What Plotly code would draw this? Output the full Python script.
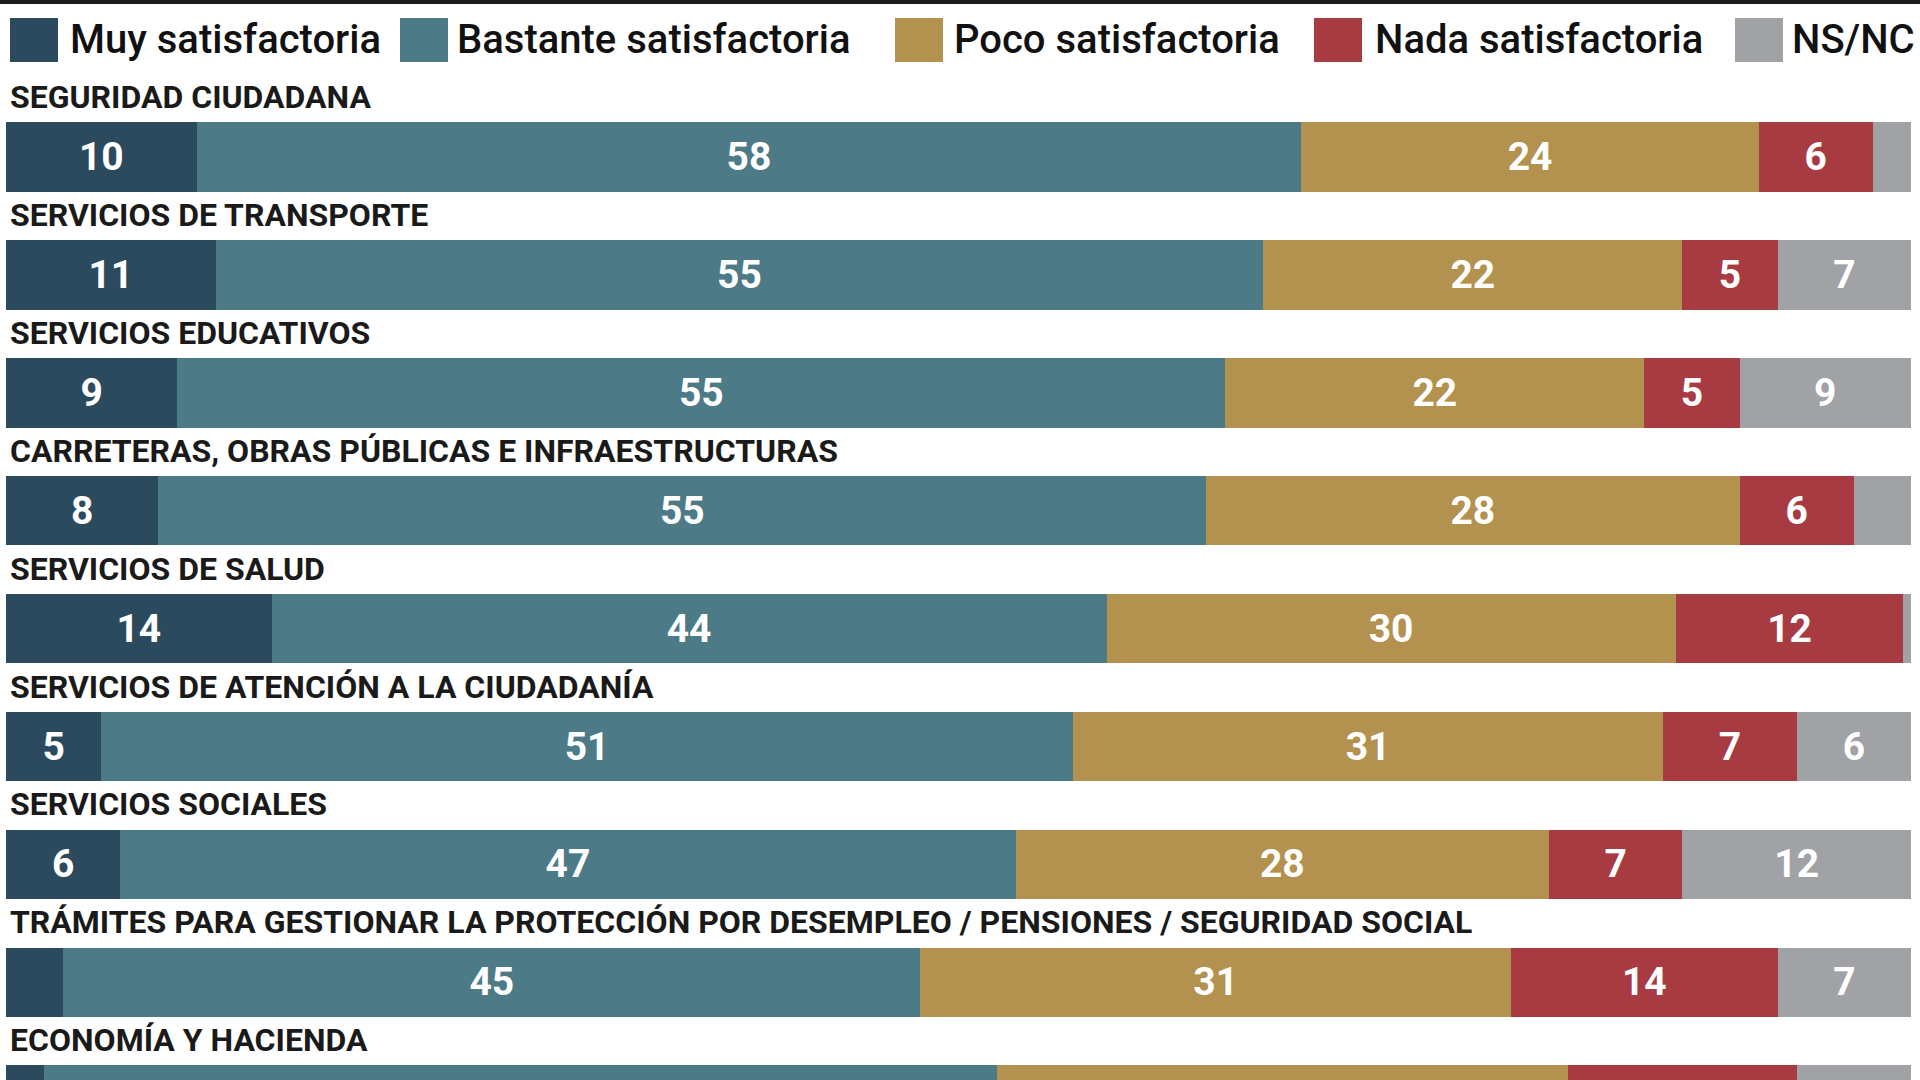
import plotly.graph_objects as go

# ---------------- data ----------------
categories = [
    "SEGURIDAD CIUDADANA",
    "SERVICIOS DE TRANSPORTE",
    "SERVICIOS EDUCATIVOS",
    "CARRETERAS, OBRAS PÚBLICAS E INFRAESTRUCTURAS",
    "SERVICIOS DE SALUD",
    "SERVICIOS DE ATENCIÓN A LA CIUDADANÍA",
    "SERVICIOS SOCIALES",
    "TRÁMITES PARA GESTIONAR LA PROTECCIÓN POR DESEMPLEO / PENSIONES / SEGURIDAD SOCIAL",
    "ECONOMÍA Y HACIENDA",
]
series_names = ["Muy satisfactoria", "Bastante satisfactoria", "Poco satisfactoria",
                "Nada satisfactoria", "NS/NC"]
muy = [10, 11, 9, 8, 14, 5, 6, 3, 2]
bastante = [58, 55, 55, 55, 44, 51, 47, 45, 50]
poco = [24, 22, 22, 28, 30, 31, 28, 31, 30]
nada = [6, 5, 5, 6, 12, 7, 7, 14, 12]
nsnc = [2, 7, 9, 3, 0.4, 6, 12, 7, 6]
series_values = [muy, bastante, poco, nada, nsnc]
# segments whose number is not printed in the original (series index, row index)
unlabeled = {(0, 7), (4, 0), (4, 3), (4, 4)} | {(s, 8) for s in range(5)}

# ---------------- style ----------------
colors = ["#2c4a5e", "#4c7a86", "#b3924f", "#a73b41", "#a0a2a6"]
W, H = 1920, 1080
row_px = 117.9          # distance between rows in pixels
first_center_px = 157   # centre of first bar from top
num_font = dict(family="Roboto, DejaVu Sans, sans-serif", size=39, color="white", weight=700)
cat_font = dict(family="Roboto, DejaVu Sans, sans-serif", size=32, color="#1a1a1a", weight=700)
leg_font = dict(family="Roboto, DejaVu Sans, sans-serif", size=40, color="#111111", weight=500)

rows = list(range(len(categories)))
fig = go.Figure()
for s, (name, vals, col) in enumerate(zip(series_names, series_values, colors)):
    text = ["" if (s, i) in unlabeled else f"{v:g}" for i, v in enumerate(vals)]
    fig.add_trace(go.Bar(
        name=name, y=rows, x=vals, orientation="h",
        marker=dict(color=col, line=dict(width=0)),
        text=text, textposition="inside", insidetextanchor="middle",
        textfont=num_font, constraintext="none",
        width=0.59, showlegend=False,
        customdata=[categories[i] for i in rows],
        hovertemplate="%{customdata}<br>" + name + ": %{text}<extra></extra>",
    ))

top_unit = -first_center_px / row_px
bottom_unit = top_unit + H / row_px

# category labels above each bar
annotations = []
for i, cat in enumerate(categories):
    annotations.append(dict(
        x=8 / W, xref="paper", y=i - 0.33, yref="y",
        text=cat, showarrow=False, xanchor="left", yanchor="bottom",
        font=cat_font,
    ))

# custom legend (large squares)
leg_square_x = [10, 400, 895, 1314, 1735]
leg_text_x = [68, 455, 952, 1373, 1790]
shapes = [dict(type="rect", xref="paper", yref="paper", x0=0, x1=1,
               y0=1 - 4 / H, y1=1, fillcolor="#1a1a1a", line=dict(width=0))]
for name, col, sx, tx in zip(series_names, colors, leg_square_x, leg_text_x):
    shapes.append(dict(type="rect", xref="paper", yref="paper",
                       x0=sx / W, x1=(sx + 48) / W, y0=1 - 62 / H, y1=1 - 18 / H,
                       fillcolor=col, line=dict(width=0)))
    annotations.append(dict(x=tx / W, xref="paper", y=1 - 40 / H, yref="paper",
                            text=name, showarrow=False, xanchor="left", yanchor="middle",
                            font=leg_font))

fig.update_layout(
    width=W, height=H, barmode="stack", barnorm="percent",
    margin=dict(l=0, r=0, t=0, b=0),
    paper_bgcolor="white", plot_bgcolor="white",
    xaxis=dict(domain=[6 / W, 1911 / W], range=[0, 100], visible=False, fixedrange=True),
    yaxis=dict(range=[bottom_unit, top_unit], visible=False, fixedrange=True),
    annotations=annotations, shapes=shapes,
)
fig.write_html("out.html")
